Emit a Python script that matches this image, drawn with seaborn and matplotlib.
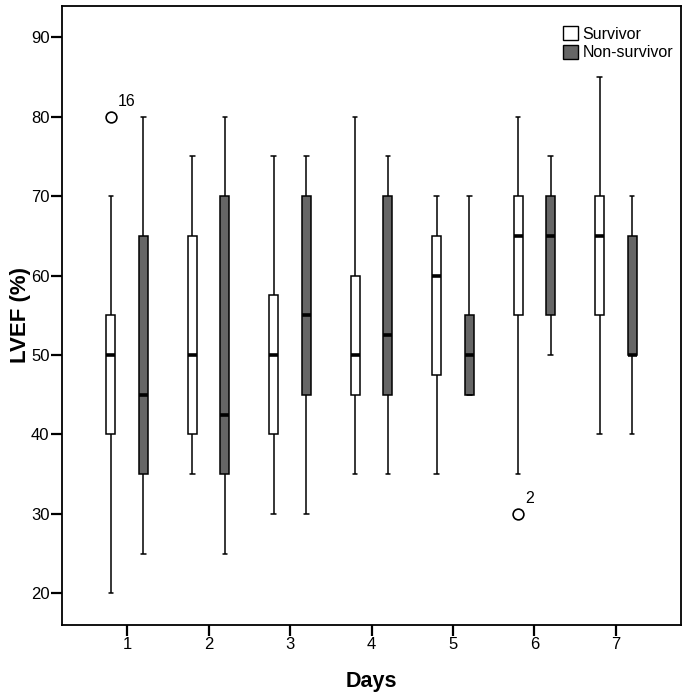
import numpy as np
import pandas as pd
import seaborn as sns
import matplotlib
matplotlib.use("Agg")
import matplotlib.pyplot as plt
from matplotlib.patches import Patch

days = ["1", "2", "3", "4", "5", "6", "7"]
groups = ["Survivor", "Non-survivor"]

surv_low = [20, 35, 30, 35, 35, 35, 40]
surv_q1 = [40, 40, 40, 45, 47.5, 55, 55]
surv_med = [50, 50, 50, 50, 60, 65, 65]
surv_q3 = [55, 65, 57.5, 60, 65, 70, 70]
surv_high = [70, 75, 75, 80, 70, 80, 85]

ns_low = [25, 25, 30, 35, 45, 50, 40]
ns_q1 = [35, 35, 45, 45, 45, 55, 50]
ns_med = [45, 42.5, 55, 52.5, 50, 65, 50]
ns_q3 = [65, 70, 70, 70, 55, 70, 65]
ns_high = [80, 80, 75, 75, 70, 75, 70]

# outliers: (day, group, value, case label)
out_days = ["1", "6"]
out_groups = ["Survivor", "Survivor"]
out_values = [80, 30]
out_labels = ["16", "2"]

rows = []
for i, d in enumerate(days):
    for v in (surv_low[i], surv_q1[i], surv_med[i], surv_q3[i], surv_high[i]):
        rows.append({"Days": d, "Group": "Survivor", "LVEF": v})
    for v in (ns_low[i], ns_q1[i], ns_med[i], ns_q3[i], ns_high[i]):
        rows.append({"Days": d, "Group": "Non-survivor", "LVEF": v})
df = pd.DataFrame(rows)

sns.set_style("white")
plt.rcParams["font.family"] = ["Liberation Sans", "DejaVu Sans"]
plt.rcParams["text.color"] = "black"
plt.rcParams["axes.labelcolor"] = "black"
plt.rcParams["xtick.color"] = "black"
plt.rcParams["ytick.color"] = "black"

fig = plt.figure(figsize=(6.85, 6.95), dpi=100)
ax = fig.add_axes([62 / 685, 70.5 / 695, 619 / 685, 618.5 / 695])

palette = {"Survivor": "white", "Non-survivor": "#666666"}
sns.boxplot(data=df, x="Days", y="LVEF", hue="Group", order=days,
            hue_order=groups, palette=palette, saturation=1,
            whis=(0, 100), width=0.8, gap=0.72, linecolor="black",
            linewidth=1.1, legend=False, ax=ax,
            medianprops=dict(linewidth=2.6, color="black"),
            showfliers=False)

offsets = {"Survivor": -0.2, "Non-survivor": 0.2}
ox = [days.index(d) + offsets[g] for d, g in zip(out_days, out_groups)]
ax.scatter(ox, out_values, s=60, facecolor="white", edgecolor="black",
           linewidth=1.2, zorder=5)
for x, v, lab in zip(ox, out_values, out_labels):
    ax.text(x + 0.09, v + 1.0, lab, fontsize=11.5, ha="left", va="bottom",
            color="black")

ax.set_xlim(-0.8, 6.8)
ax.set_ylim(16.1, 93.9)
ax.set_yticks([20, 30, 40, 50, 60, 70, 80, 90])
ax.tick_params(axis="both", which="major", direction="out", length=8,
               width=1.6, labelsize=12, colors="black", pad=1,
               bottom=True, left=True)
for s in ax.spines.values():
    s.set_linewidth(1.3)
    s.set_color("black")

ax.set_xlabel("Days", fontsize=15.5, fontweight="bold", labelpad=14,
              color="black")
ax.set_ylabel("LVEF (%)", fontsize=16, fontweight="bold", color="black")
ax.yaxis.set_label_coords(-31 / 619, 0.5)

handles = [Patch(facecolor="white", edgecolor="black", linewidth=1.0, label="Survivor"),
           Patch(facecolor="#666666", edgecolor="black", linewidth=1.0, label="Non-survivor")]
leg = ax.legend(handles=handles, loc="upper right", bbox_to_anchor=(1.005, 0.985),
                frameon=False, fontsize=11.5, handlelength=0.95, handleheight=0.95,
                handletextpad=0.25, labelspacing=0.2, borderaxespad=0.3)
for t in leg.get_texts():
    t.set_color("black")

fig.savefig("out.png", dpi=100)
